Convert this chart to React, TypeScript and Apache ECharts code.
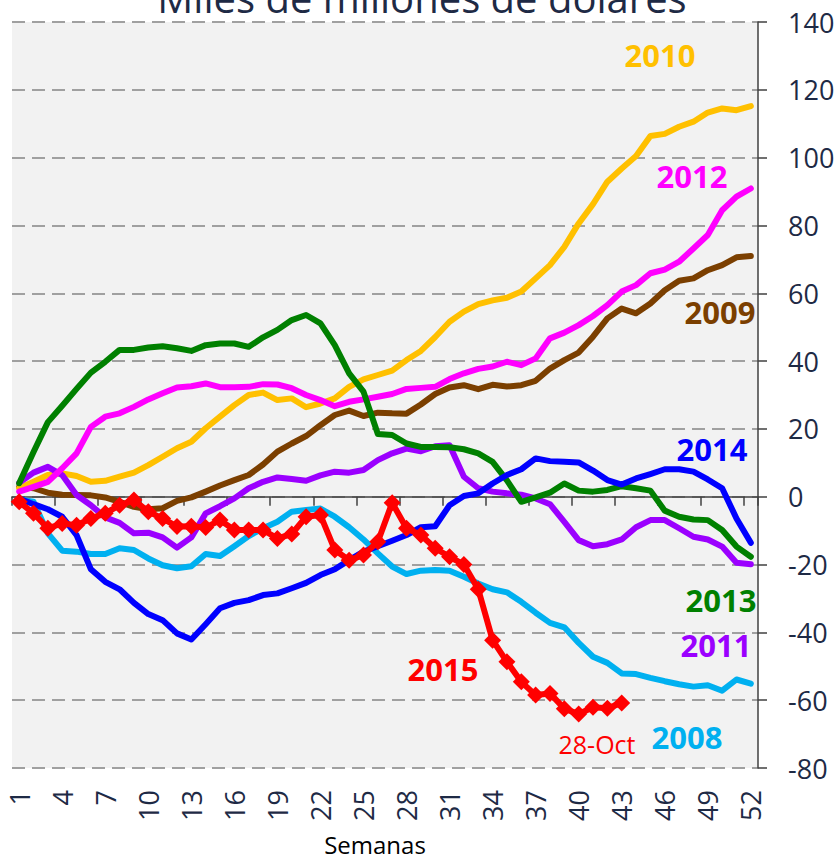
import React, { useEffect, useRef } from "react";
import * as echarts from "echarts";

const weeks = [
  "1","2","3","4","5","6","7","8","9","10","11","12","13","14","15","16","17","18","19","20",
  "21","22","23","24","25","26","27","28","29","30","31","32","33","34","35","36","37","38","39","40",
  "41","42","43","44","45","46","47","48","49","50","51","52",
];

const yearNames = ["2008", "2009", "2010", "2011", "2012", "2013", "2014", "2015"];

const y2008 = [
  -0.8, -1.5, -10.8, -15.9, -16.2, -16.9, -16.9, -15.2, -15.7, -18.2,
  -20.2, -21.1, -20.5, -16.9, -17.5, -14.6, -11.6, -9.3, -7.4, -4.4,
  -3.9, -3.5, -5.9, -9, -12.6, -16.7, -20.6, -22.8, -21.8, -21.6,
  -21.8, -23.6, -25.6, -27.3, -28.2, -31, -34.2, -37.2, -38.5, -43.1,
  -47.2, -49, -52.1, -52.3, -53.4, -54.4, -55.3, -56, -55.6, -57.2,
  -53.9, -55.1,
];
const y2009 = [
  3, 2.5, 1.2, 0.6, 0.5, 0.4, -0.2, -1.5, -3, -3.7,
  -3.4, -1.2, -0.2, 1.5, 3.3, 4.9, 6.4, 9.5, 13.3, 15.7,
  17.9, 21.1, 24.1, 25.4, 23.8, 24.8, 24.6, 24.5, 27.2, 30.3,
  32.2, 32.9, 31.7, 33, 32.5, 32.9, 34.2, 37.8, 40.3, 42.5,
  47.2, 52.6, 55.5, 54.1, 57, 60.9, 63.7, 64.4, 66.8, 68.3,
  70.6, 71,
];
const y2010 = [
  2.5, 4.4, 6.4, 6.9, 6.1, 4.4, 4.7, 5.9, 7.1, 9.3,
  11.8, 14.3, 16.2, 20.2, 23.6, 27, 30, 30.7, 28.5, 29,
  26.4, 27.5, 29, 32.4, 34.6, 35.9, 37.2, 40.3, 43, 47.1,
  51.6, 54.6, 56.8, 57.9, 58.7, 60.5, 64.4, 68.3, 73.7, 80.6,
  86.3, 92.9, 96.8, 100.5, 106.4, 107, 109.1, 110.6, 113.3, 114.5,
  114, 115.2,
];
const y2011 = [
  4.1, 7.1, 8.8, 6.4, 0.5, -2.5, -6.1, -7.7, -10.8, -10.6,
  -12, -15, -12, -4.9, -2.8, -0.5, 2.5, 4.4, 5.7, 5.2,
  4.7, 6.3, 7.4, 7.1, 7.9, 10.8, 12.8, 14.2, 13.4, 14.9,
  15.2, 5.9, 2.5, 1.5, 1.0, 0.6, -0.5, -2.2, -7.4, -12.8,
  -14.6, -14, -12.6, -9, -6.9, -6.9, -9.3, -11.8, -12.6, -14.7,
  -19.5, -19.9,
];
const y2012 = [
  1.5, 2.9, 4.4, 8.4, 12.8, 20.6, 23.6, 24.6, 26.5, 28.7,
  30.5, 32.2, 32.6, 33.4, 32.3, 32.3, 32.4, 33.2, 33.1, 32,
  30, 28.5, 26.7, 28, 28.7, 29.5, 30.3, 31.8, 32.1, 32.4,
  34.7, 36.4, 37.7, 38.4, 39.8, 38.8, 40.8, 46.7, 48.4, 50.6,
  53.3, 56.5, 60.5, 62.4, 65.9, 67, 69.3, 73.2, 77.2, 84.5,
  88.5, 90.9,
];
const y2013 = [
  4, 13.2, 22, 26.8, 31.8, 36.6, 39.8, 43.3, 43.3, 44,
  44.4, 43.8, 43, 44.7, 45.2, 45.2, 44.2, 47, 49.2, 52.1,
  53.6, 51.1, 44.7, 36.4, 31, 18.5, 18.2, 15.7, 14.7, 14.7,
  14.6, 14, 12.8, 10.3, 4.8, -1.5, -0.2, 1.2, 3.9, 1.8,
  1.5, 2, 3.1, 2.5, 1.8, -4.1, -5.9, -6.7, -6.9, -9.8,
  -14.7, -17.7,
];
const y2014 = [
  -0.5, -2.2, -3.7, -5.9, -11.3, -21.4, -25.1, -27.3, -31.3, -34.6,
  -36.4, -40.3, -42.1, -37.6, -32.9, -31.3, -30.5, -29, -28.5, -27,
  -25.4, -23.1, -21.4, -18.7, -16.2, -14.6, -13, -11.3, -9, -8.7,
  -2.5, 0.2, 1, 3.9, 6.4, 8.1, 11.3, 10.5, 10.3, 10.1,
  7.7, 4.9, 3.6, 5.4, 6.7, 8.1, 8.1, 7.4, 5.1, 2.5,
  -6.4, -13.6,
];
const y2015 = [
  -1.5, -4.9, -9.3, -7.9, -8.4, -6.4, -4.9, -2.5, -1, -4.4,
  -6.4, -8.8, -8.7, -9.1, -6.9, -9.8, -9.8, -9.8, -12.3, -11,
  -5.9, -5.4, -15.7, -18.7, -17.2, -13.3, -1.8, -9.3, -11.3, -15.2,
  -17.7, -20, -27.3, -42.3, -48.7, -54.6, -58.5, -58, -62.5, -64.1,
  -62.1, -62.4, -60.8,
];

const yTickMin = -80;
const yTickMax = 140;
const yTickStep = 20;

const titleText = "Miles de millones de dólares";
const xAxisTitle = "Semanas";
const lastDateLabel = "28-Oct";

const seriesValues = [y2008, y2009, y2010, y2011, y2012, y2013, y2014, y2015];
const seriesColors = ["#00B0F0", "#7B3F00", "#FFC000", "#9B00FF", "#FF00FF", "#008000", "#0000FF", "#FF0000"];
// label centre positions in pixels, same order as yearNames
const labelPos: [number, number][] = [
  [687, 737],
  [720, 312],
  [660, 55],
  [716, 645],
  [692, 176],
  [721, 600],
  [712, 449],
  [443, 669],
];

const FONT = '"Open Sans", "Liberation Sans", sans-serif';
const INK = "#1e2a45";

export default function App() {
  const ref = useRef<HTMLDivElement>(null);

  useEffect(() => {
    if (!ref.current) return;
    const chart = echarts.init(ref.current, undefined, { renderer: "svg" });

    const series: any[] = yearNames.map((name, i) => {
      const isLast = i === yearNames.length - 1;
      return {
        name,
        type: "line",
        data: seriesValues[i],
        xAxisIndex: 0,
        yAxisIndex: 0,
        showSymbol: isLast,
        showAllSymbol: true,
        symbol: isLast ? "diamond" : "none",
        symbolSize: 17,
        itemStyle: { color: seriesColors[i] },
        lineStyle: { color: seriesColors[i], width: 6, cap: "round", join: "round" },
        emphasis: { disabled: true },
        silent: true,
        z: 2 + i,
      };
    });

    const graphic: any[] = [
      {
        type: "text",
        x: 422,
        y: -3,
        silent: true,
        style: {
          text: titleText,
          font: `40px ${FONT}`,
          fill: INK,
          align: "center",
          verticalAlign: "middle",
          textAlign: "center",
          textVerticalAlign: "middle",
        },
      },
      {
        type: "text",
        x: 375,
        y: 844,
        silent: true,
        style: {
          text: xAxisTitle,
          font: `24px ${FONT}`,
          fill: "#000000",
          align: "center",
          verticalAlign: "middle",
          textAlign: "center",
          textVerticalAlign: "middle",
        },
      },
      {
        type: "text",
        x: 597,
        y: 744,
        silent: true,
        style: {
          text: lastDateLabel,
          font: `25px ${FONT}`,
          fill: "#FF0000",
          align: "center",
          verticalAlign: "middle",
          textAlign: "center",
          textVerticalAlign: "middle",
        },
      },
      ...yearNames.map((name, i) => ({
        type: "text",
        x: labelPos[i][0],
        y: labelPos[i][1],
        silent: true,
        z: 100,
        style: {
          text: name,
          font: `bold 31px ${FONT}`,
          fill: seriesColors[i],
          align: "center",
          verticalAlign: "middle",
          textAlign: "center",
          textVerticalAlign: "middle",
        },
      })),
    ];

    chart.setOption({
      animation: false,
      backgroundColor: "#ffffff",
      grid: {
        left: 12,
        right: 80,
        top: 22,
        bottom: 91,
        show: true,
        backgroundColor: "#F2F2F2",
        borderWidth: 0,
        containLabel: false,
      },
      xAxis: [
        {
          type: "category",
          data: weeks,
          boundaryGap: true,
          position: "bottom",
          axisLine: { show: true, onZero: true, lineStyle: { color: "#404040", width: 1.5 } },
          axisTick: { show: true, interval: 2, length: 9, lineStyle: { color: "#404040", width: 1.5 } },
          axisLabel: { show: false, interval: 2 },
          splitLine: { show: false },
        },
        {
          type: "category",
          data: weeks,
          boundaryGap: true,
          position: "bottom",
          axisLine: { show: false, onZero: false },
          axisTick: { show: false },
          axisLabel: {
            show: true,
            interval: 2,
            rotate: 90,
            margin: 22,
            fontSize: 27,
            fontFamily: FONT,
            color: INK,
          },
          splitLine: { show: false },
        },
      ],
      yAxis: {
        type: "value",
        position: "right",
        min: yTickMin,
        max: yTickMax,
        interval: yTickStep,
        axisLine: { show: true, lineStyle: { color: "#404040", width: 1.5 } },
        axisTick: { show: true, length: 9, lineStyle: { color: "#404040", width: 1.5 } },
        axisLabel: { margin: 30, fontSize: 27, fontFamily: FONT, color: INK },
        splitLine: { show: true, lineStyle: { color: "#A0A0A0", width: 2, type: [13, 7] } },
      },
      series,
      graphic,
    });

    return () => {
      chart.dispose();
    };
  }, []);

  return (
    <div
      ref={ref}
      style={{ position: "fixed", left: 0, top: 0, width: 838, height: 859, background: "#ffffff" }}
    />
  );
}
